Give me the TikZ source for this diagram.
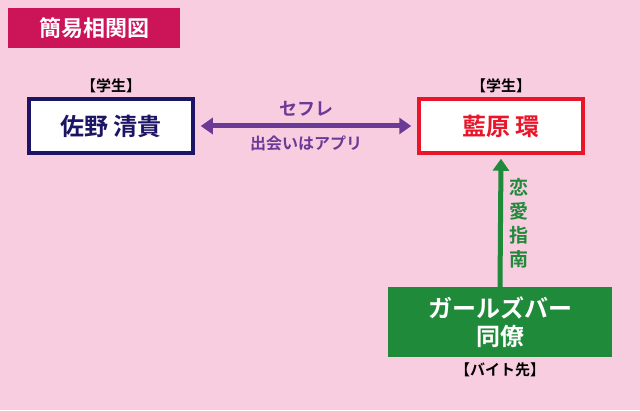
\documentclass[tikz,border=0pt]{standalone}
\usepackage{fontspec}
\setmainfont{Noto Sans CJK JP}[BoldFont={* Bold}]
\usetikzlibrary{arrows.meta,positioning}
\definecolor{bgpink}{HTML}{F9CDE0}
\definecolor{titlered}{HTML}{CC1458}
\definecolor{navy}{HTML}{1C1464}
\definecolor{boxred}{HTML}{E8152B}
\definecolor{lilac}{HTML}{6B3A96}
\definecolor{leaf}{HTML}{1E8A3A}

\begin{document}
\begin{tikzpicture}[
  x=1pt, y=1pt, font=\bfseries,
  person/.style={draw, fill=white, line width=3.5pt, minimum width=164pt, minimum height=54pt, font=\bfseries\fontsize{24}{26}\selectfont},
  tag/.style={font=\bfseries\fontsize{15}{17}\selectfont},
  rel/.style={line width=5pt, -{Triangle[length=12pt,width=16pt]}}
]
\fill[bgpink] (0,0) rectangle (640,410);
\useasboundingbox (0,0) rectangle (640,410);
\node[fill=titlered, text=white, minimum width=172pt, minimum height=40pt, font=\bfseries\fontsize{22}{24}\selectfont] (title) at (94,382) {簡易相関図};
% people
\node[person, draw=navy, text=navy] (sano) at (111,284) {佐野\ 清貴};
\node[person, draw=boxred, text=boxred] (aihara) at (501,284) {藍原\ 環};
\node[tag, above=1pt of sano] (sanotag) {【学生】};
\node[tag, above=1pt of aihara] (aiharatag) {【学生】};
% workplace
\node[fill=leaf, text=white, minimum width=224pt, minimum height=70pt, align=center, font=\bfseries\fontsize{24}{28}\selectfont] (bar) at (500,88) {ガールズバー\\同僚};
\node[tag, below=2pt of bar] (bartag) {【バイト先】};
% relations
\draw[rel, lilac, {Triangle[length=12pt,width=16pt]}-{Triangle[length=12pt,width=16pt]}] ([xshift=6pt]sano.east) -- ([xshift=-6pt]aihara.west)
  node[midway, above=4pt, tag, text=lilac, font=\bfseries\fontsize{18}{20}\selectfont] (sefure) {セフレ}
  node[midway, below=4pt, tag, text=lilac, font=\bfseries\fontsize{16}{18}\selectfont] (apuri) {出会いはアプリ};
\draw[rel, leaf] (bar.north) -- ([yshift=-4pt]aihara.south)
  node[midway, right=3pt, text=leaf, align=center, font=\bfseries\fontsize{19}{24}\selectfont] (shinan) {恋\\愛\\指\\南};
\end{tikzpicture}
\end{document}
